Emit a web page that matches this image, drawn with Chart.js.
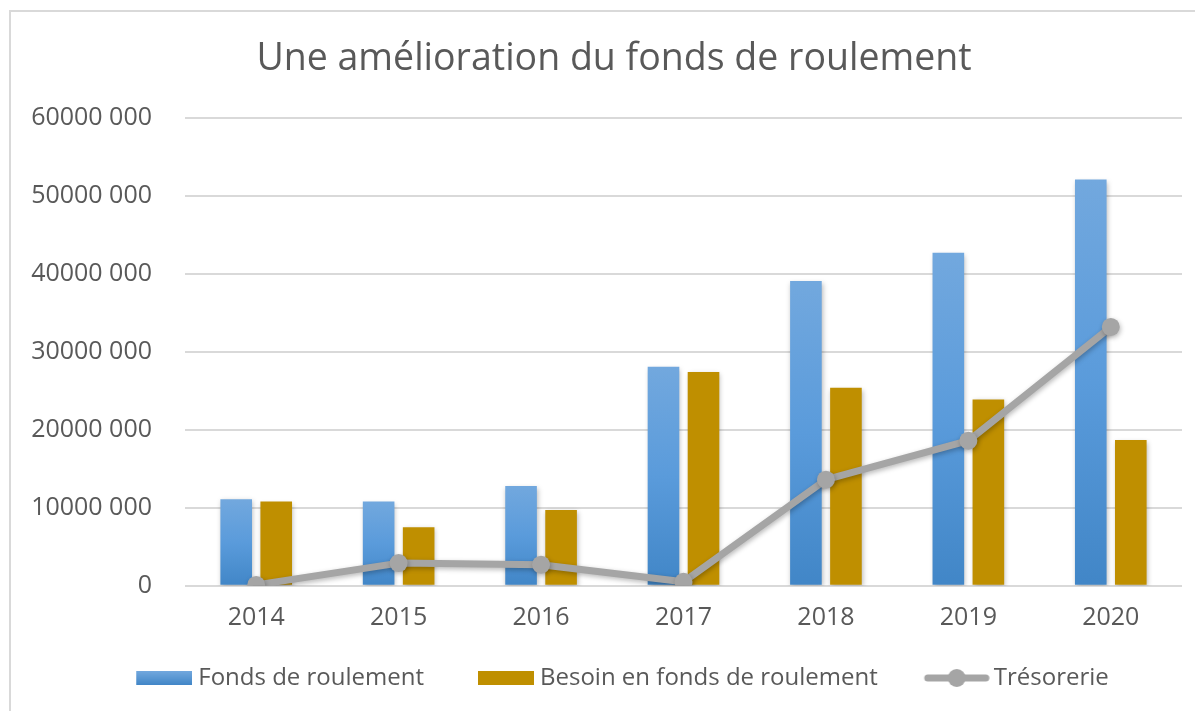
<!DOCTYPE html>
<html>
<head>
<meta charset="utf-8">
<script src="https://cdn.jsdelivr.net/npm/chart.js@4.4.1/dist/chart.umd.min.js"></script>
<style>
  html, body { margin: 0; padding: 0; background: #fff; overflow: hidden; width: 1195px; height: 711px; }
  #frame { position: absolute; left: 9px; top: 10px; width: 1206px; height: 701px;
           border-top: 2px solid #d9d9d9; border-left: 2px solid #d9d9d9; }
  #wrap { position: absolute; left: 0; top: 0; width: 1206px; height: 699px; }
</style>
</head>
<body>
<div id="frame"><div id="wrap"><canvas id="c"></canvas></div></div>
<script>
const titleText = "Une amélioration du fonds de roulement";
const categories = ["2014", "2015", "2016", "2017", "2018", "2019", "2020"];
const fondsDeRoulement = [11100000, 10800000, 12800000, 28100000, 39100000, 42700000, 52100000];
const besoinFondsDeRoulement = [10800000, 7500000, 9700000, 27400000, 25400000, 23900000, 18700000];
const tresorerie = [100000, 2900000, 2700000, 500000, 13600000, 18600000, 33200000];
const seriesNames = ["Fonds de roulement", "Besoin en fonds de roulement", "Trésorerie"];
const yMax = 60000000;
const yStep = 10000000;

const TEXT = "#595959";
const FONT = "'Open Sans', 'DejaVu Sans', sans-serif";
const BLUE_TOP = "#72a8de";
const BLUE_BOT = "#4186c7";
const GOLD = "#bf8f00";
const GREY = "#a5a5a5";
const PSW = 72; // legend point style slot width

function fmtTick(v) {
  if (v === 0) return "0";
  const th = Math.floor(v / 1000);
  const rest = String(v % 1000).padStart(3, "0");
  return th + " " + rest;
}

function blueGradient(ctx) {
  const chart = ctx.chart;
  if (!chart.chartArea || ctx.parsed === undefined) return BLUE_BOT;
  const y = chart.scales.y;
  const top = y.getPixelForValue(ctx.parsed.y);
  const bot = y.getPixelForValue(0);
  const g = chart.ctx.createLinearGradient(0, top, 0, bot);
  g.addColorStop(0, BLUE_TOP);
  g.addColorStop(0.5, "#5a9bdb");
  g.addColorStop(1, BLUE_BOT);
  return g;
}

function makeBox(fill) {
  const W = PSW + 12;
  const c = document.createElement("canvas");
  c.width = W; c.height = 14;
  const x = c.getContext("2d");
  if (fill === "blue") {
    const g = x.createLinearGradient(0, 0, 0, 14);
    g.addColorStop(0, BLUE_TOP); g.addColorStop(1, BLUE_BOT);
    x.fillStyle = g;
  } else {
    x.fillStyle = fill;
  }
  x.fillRect(W - 56, 0, 56, 14);
  return c;
}
function makeLine() {
  const W = PSW + 16;
  const c = document.createElement("canvas");
  c.width = W; c.height = 20;
  const x = c.getContext("2d");
  const s = W - 66;
  x.strokeStyle = GREY; x.lineWidth = 7; x.lineCap = "round";
  x.beginPath(); x.moveTo(s + 4, 10); x.lineTo(s + 62, 10); x.stroke();
  x.fillStyle = GREY;
  x.beginPath(); x.arc(s + 33, 10, 9, 0, Math.PI * 2); x.fill();
  return c;
}
const legendIcons = [makeBox("blue"), makeBox(GOLD), makeLine()];

const shadowPlugin = {
  id: "shadow",
  beforeDatasetDraw(chart) {
    const c = chart.ctx;
    c.save();
    c.shadowColor = "rgba(0,0,0,0.28)";
    c.shadowBlur = 5;
    c.shadowOffsetX = 1;
    c.shadowOffsetY = 2;
  },
  afterDatasetDraw(chart) {
    chart.ctx.restore();
  }
};

const centerPlugin = {
  id: "centerBlocks",
  afterLayout(chart) {
    if (chart.titleBlock) { chart.titleBlock.left = 0; chart.titleBlock.right = chart.width; }
    if (chart.legend) { chart.legend.left = 30; chart.legend.right = 1171; }
  }
};

new Chart(document.getElementById("c"), {
  type: "bar",
  data: {
    labels: categories,
    datasets: [
      {
        type: "bar",
        label: seriesNames[0],
        data: fondsDeRoulement,
        backgroundColor: blueGradient,
        borderWidth: 0,
        categoryPercentage: 0.562,
        barPercentage: 0.79,
        order: 1
      },
      {
        type: "bar",
        label: seriesNames[1],
        data: besoinFondsDeRoulement,
        backgroundColor: GOLD,
        borderWidth: 0,
        categoryPercentage: 0.562,
        barPercentage: 0.79,
        order: 1
      },
      {
        type: "line",
        label: seriesNames[2],
        data: tresorerie,
        borderColor: GREY,
        backgroundColor: GREY,
        borderWidth: 7,
        pointRadius: 9,
        pointBackgroundColor: GREY,
        pointBorderWidth: 0,
        borderJoinStyle: "round",
        borderCapStyle: "round",
        tension: 0,
        fill: false,
        order: 0
      }
    ]
  },
  options: {
    responsive: true,
    maintainAspectRatio: false,
    animation: false,
    devicePixelRatio: 1,
    layout: { padding: { left: 0, right: 35, top: 0, bottom: 11 } },
    plugins: {
      tooltip: { enabled: false },
      title: {
        display: true,
        text: titleText,
        color: TEXT,
        font: { family: FONT, size: 37.5, weight: "normal", lineHeight: 1.2 },
        padding: { top: 25, bottom: 36 }
      },
      legend: {
        display: true,
        position: "bottom",
        labels: {
          color: TEXT,
          font: { family: FONT, size: 24 },
          usePointStyle: true,
          pointStyleWidth: PSW,
          boxHeight: 14,
          padding: 32,
          sort: (a, b) => a.datasetIndex - b.datasetIndex,
          generateLabels: (chart) => chart.data.datasets.map((ds, i) => ({
            text: ds.label,
            fontColor: TEXT,
            pointStyle: legendIcons[i],
            datasetIndex: i,
            hidden: false,
            lineWidth: 0,
            strokeStyle: "rgba(0,0,0,0)",
            fillStyle: "rgba(0,0,0,0)"
          }))
        }
      }
    },
    scales: {
      x: {
        offset: true,
        grid: { display: false, drawTicks: false },
        border: { display: false },
        ticks: { color: TEXT, font: { family: FONT, size: 25 }, padding: 17, maxRotation: 0 },
        afterFit(scale) { scale.height = 48.3; }
      },
      y: {
        min: 0,
        max: yMax,
        grid: { color: "#d9d9d9", lineWidth: 2, drawTicks: false },
        border: { display: false },
        ticks: {
          stepSize: yStep,
          color: TEXT,
          font: { family: FONT, size: 25 },
          padding: 33,
          callback: (v) => fmtTick(v)
        },
        afterFit(scale) { scale.width = 174; }
      }
    }
  },
  plugins: [shadowPlugin, centerPlugin]
});
</script>
</body>
</html>
